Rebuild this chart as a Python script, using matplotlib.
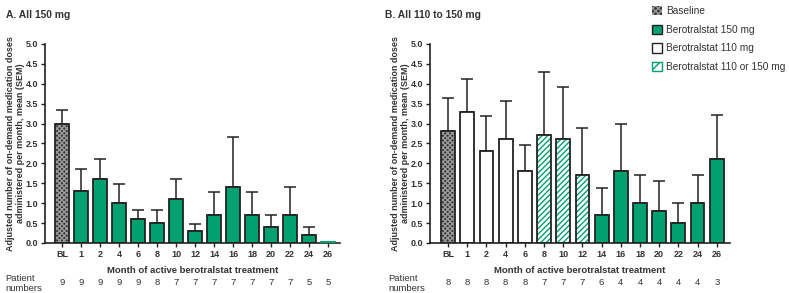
import numpy as np
import matplotlib.pyplot as plt
from matplotlib.patches import Patch

plt.rcParams['font.family'] = ['Liberation Sans', 'DejaVu Sans']

months = ['BL', '1', '2', '4', '6', '8', '10', '12', '14', '16', '18', '20', '22', '24', '26']

# panel A: all 150 mg
mean_a = [3.0, 1.3, 1.6, 1.0, 0.6, 0.5, 1.1, 0.3, 0.7, 1.4, 0.7, 0.4, 0.7, 0.2, 0.0]
upper_a = [3.35, 1.85, 2.1, 1.47, 0.82, 0.82, 1.6, 0.47, 1.27, 2.67, 1.27, 0.7, 1.41, 0.4, 0.0]
patients_a = [9, 9, 9, 9, 9, 8, 7, 7, 7, 7, 7, 7, 7, 5, 5]
group_a = ['base'] + ['150'] * 14

# panel B: all 110 to 150 mg
mean_b = [2.8, 3.3, 2.3, 2.6, 1.8, 2.7, 2.6, 1.7, 0.7, 1.8, 1.0, 0.8, 0.5, 1.0, 2.1]
upper_b = [3.63, 4.13, 3.18, 3.56, 2.47, 4.3, 3.93, 2.89, 1.37, 2.98, 1.71, 1.55, 1.0, 1.71, 3.22]
patients_b = [8, 8, 8, 8, 8, 7, 7, 7, 6, 4, 4, 4, 4, 4, 3]
group_b = ['base', '110', '110', '110', '110', 'mix', 'mix', 'mix'] + ['150'] * 7

green = '#00a070'
dark = '#222222'
txt = '#333333'
base_face = '#333333'
base_hatch = '#9a9a9a'

fig = plt.figure(figsize=(7.89, 2.93), dpi=100)
ax_a = fig.add_axes([0.057, 0.171, 0.374, 0.679])
ax_b = fig.add_axes([0.545, 0.171, 0.380, 0.679])


def draw(ax, mean, upper, groups, patients, xl):
    x = np.arange(len(mean))
    w = 0.72
    for xi, m, g in zip(x, mean, groups):
        if m <= 0:
            ax.plot([xi - w / 2, xi + w / 2], [0.01, 0.01], color=green, lw=1.5, zorder=3)
            continue
        if g == 'base':
            ax.bar(xi, m, w, color=base_face, edgecolor=base_hatch, hatch='xxxxxxx', lw=0, zorder=2)
        elif g == '150':
            ax.bar(xi, m, w, color=green, lw=0, zorder=2)
        elif g == '110':
            ax.bar(xi, m, w, color='white', lw=0, zorder=2)
        else:
            ax.bar(xi, m, w, color='white', edgecolor=green, hatch='//////', lw=0, zorder=2)
        ax.bar(xi, m, w, fill=False, edgecolor=dark, lw=1.3, zorder=3)
    err = np.array(upper) - np.array(mean)
    for xi, m, e in zip(x, mean, err):
        if e > 0:
            ax.errorbar(xi, m, yerr=[[0], [e]], fmt='none', ecolor=dark,
                        elinewidth=1.1, capsize=4, capthick=1.1, zorder=1)
    ax.set_xlim(xl)
    ax.set_ylim(0, 5.0)
    ax.set_yticks(np.arange(0, 5.01, 0.5))
    ax.set_yticklabels(['%.1f' % v for v in np.arange(0, 5.01, 0.5)],
                       fontsize=6.5, fontweight='bold', color=txt)
    ax.set_xticks(x)
    ax.set_xticklabels(months, fontsize=6.5, fontweight='bold', color=txt)
    ax.tick_params(length=3, width=1, color=dark, pad=2)
    for s in ['top', 'right']:
        ax.spines[s].set_visible(False)
    for s in ['left', 'bottom']:
        ax.spines[s].set_linewidth(1.2)
        ax.spines[s].set_color(dark)
    ax.set_xlabel('Month of active berotralstat treatment', fontsize=6.8,
                  fontweight='bold', color=txt, labelpad=5)
    ax.set_ylabel('Adjusted number of on-demand medication doses\n'
                  'administered per month, mean (SEM)', fontsize=6.5,
                  fontweight='bold', color=txt, labelpad=0)
    # patient numbers row below the axis
    for xi, p in zip(x, patients):
        ax.annotate(str(p), xy=(xi, 0), xycoords=('data', 'axes fraction'),
                    xytext=(0, -40), textcoords='offset pixels',
                    ha='center', va='center', fontsize=6.8, color=txt)


draw(ax_a, mean_a, upper_a, group_a, patients_a, (-0.9, 14.63))
draw(ax_b, mean_b, upper_b, group_b, patients_b, (-0.94, 14.68))

fig.text(0.007, 0.95, 'A. All 150 mg', fontsize=7.4, fontweight='bold', color=txt, va='center')
fig.text(0.488, 0.95, 'B. All 110 to 150 mg', fontsize=7.4, fontweight='bold', color=txt, va='center')
fig.text(0.007, 0.032, 'Patient\nnumbers', fontsize=6.8, color=txt, va='center', linespacing=1.2)
fig.text(0.492, 0.032, 'Patient\nnumbers', fontsize=6.8, color=txt, va='center', linespacing=1.2)

handles = [
    Patch(facecolor=base_face, edgecolor=base_hatch, hatch='xxxxxx', lw=0),
    Patch(facecolor=green, edgecolor=dark, lw=1),
    Patch(facecolor='white', edgecolor=dark, lw=1),
    Patch(facecolor='white', edgecolor=green, hatch='///', lw=1),
]
leg = fig.legend(handles, ['Baseline', 'Berotralstat 150 mg', 'Berotralstat 110 mg',
                           'Berotralstat 110 or 150 mg'],
                 loc='upper left', bbox_to_anchor=(0.815, 1.01), frameon=False,
                 fontsize=7.3, handlelength=1.0, handleheight=1.0, handletextpad=0.4,
                 labelspacing=0.85, labelcolor=txt)

fig.savefig('out.png', dpi=100)
